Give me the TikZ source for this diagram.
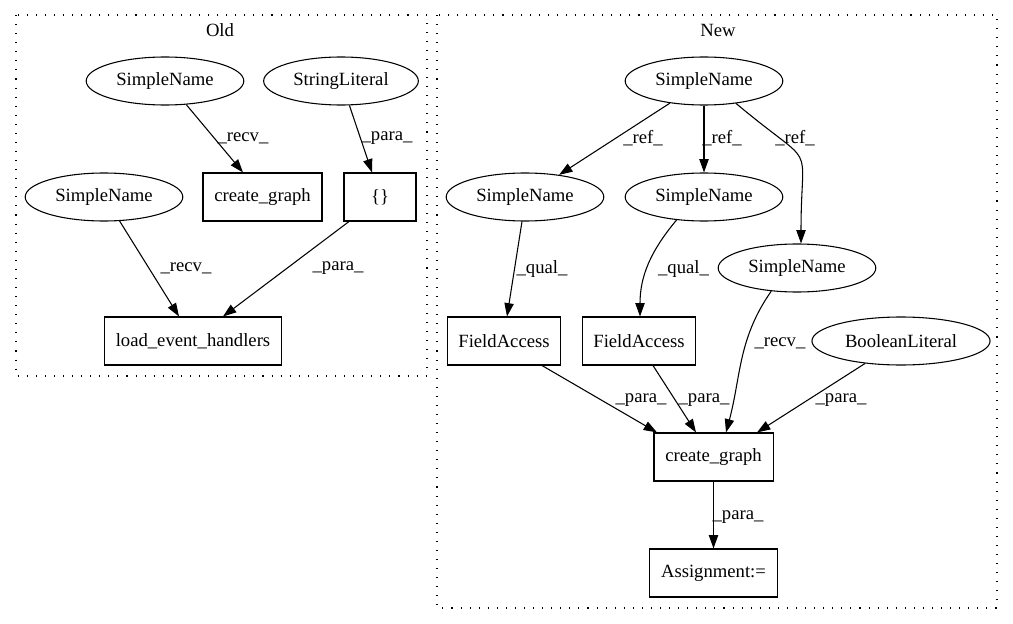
\documentclass[tikz,border=0pt]{standalone}
\usepackage{fontspec}
\setmainfont{Liberation Serif}
\usetikzlibrary{shapes.geometric,arrows.meta,calc,positioning}
\tikzstyle{box}=[draw, rectangle, line width=0.8pt, minimum width=54pt, minimum height=36pt, inner xsep=8.5pt]
\tikzstyle{oval}=[draw, ellipse, line width=0.8pt, minimum height=36pt, inner xsep=5.25pt, inner ysep=1pt]
\tikzstyle{lbl}=[inner sep=0pt]
\tikzstyle{cluster}=[line width=0.8pt, dash pattern=on 0.8pt off 6pt]

\begin{document}
\begin{tikzpicture}[x=0.75pt, y=-0.75pt, line width=0.8pt,
    >={Triangle[length=10pt,width=7pt]},
    every node/.style={font=\fontsize{14}{16}\selectfont}]
            \useasboundingbox (0,0) rectangle (1013,624);
            % clusters
            \draw[cluster] (16,15) rectangle (427,376);
            \draw[cluster] (437,15) rectangle (997,608);
            \node (old) at (220,30) {Old};
            \node (new) at (718,30) {New};
            % old
            \node [oval] (sn1) at (165,81) {SimpleName};
            \node [oval] (strlit) at (341,81) {StringLiteral};
            \node [box] (cgo) at (262.5,197) {create\_graph};
            \node [box] (brace) at (380,197) {\{\}};
            \node [oval] (sn2) at (104,197) {SimpleName};
            \node [box] (leh) at (193,341) {load\_event\_handlers};
            \path[->] (sn1.-48) edge ($(cgo.north)+(-19.5,0)$);
            \path[->] (strlit.-71) edge ($(brace.north)+(-8,0)$);
            \path[->] (sn2.-57) edge ($(leh.north)+(-14,0)$);
            \path[->] ($(brace.south)+(-31,0)$) edge ($(leh.north)+(30,0)$);
            \node [lbl] (l1) at (243,138) {\_recv\_};
            \node [lbl] (l2) at (387,138) {\_para\_};
            \node [lbl] (l3) at (186,268) {\_recv\_};
            \node [lbl] (l4) at (338,268) {\_para\_};
            % new
            \node [oval] (tsn) at (704,81) {SimpleName};
            \node [oval] (lsn) at (525,197) {SimpleName};
            \node [oval, below of=tsn, node distance=87pt] (msn) {SimpleName};
            \node [oval] (rsn) at (797,268) {SimpleName};
            \node [box] (fal) at (504,341) {FieldAccess};
            \node [box, right of=fal, node distance=101.25pt] (fam) {FieldAccess};
            \node [oval] (bool) at (901,341) {BooleanLiteral};
            \node [box] (cg) at (713.5,457) {create\_graph};
            \node [box, below of=cg, node distance=87pt] (asg) {Assignment:=};
            \path[->] (tsn.213) edge (lsn.33);
            \path[->] (tsn.south) edge (msn.north);
            \path[->] (tsn.-35) edge[out=-40, in=90, looseness=1.8] ($(rsn.north)+(4,0)$);
            \path[->] ($(lsn.south)+(-3,0)$) edge ($(fal.north)+(3,0)$);
            \path[->] (msn.220) edge[out=-130, in=90] ($(fam.north)+(1,0)$);
            \path[->] (rsn.222) edge[out=-125, in=75] ($(cg.north)+(12.5,0)$);
            \path[->] ($(fal.south)+(38,0)$) edge ($(cg.north)+(-56.5,0)$);
            \path[->] ($(fam.south)+(14,0)$) edge ($(cg.north)+(-17.5,0)$);
            \path[->] (bool.212) edge ($(cg.north)+(43.5,0)$);
            \path[->] (cg.south) edge (asg.north);
            \node [lbl] (r1) at (643,138) {\_ref\_};
            \node [lbl] (r2) at (722,138) {\_ref\_};
            \node [lbl] (r3) at (795,138) {\_ref\_};
            \node [lbl] (q1) at (542,269) {\_qual\_};
            \node [lbl] (q2) at (683.5,269) {\_qual\_};
            \node [lbl] (rv) at (780,343) {\_recv\_};
            \node [lbl] (p1) at (641,400) {\_para\_};
            \node [lbl] (p2) at (704,400) {\_para\_};
            \node [lbl] (p3) at (841,400) {\_para\_};
            \node [lbl] (p4) at (738,517) {\_para\_};
        \end{tikzpicture}
\end{document}
